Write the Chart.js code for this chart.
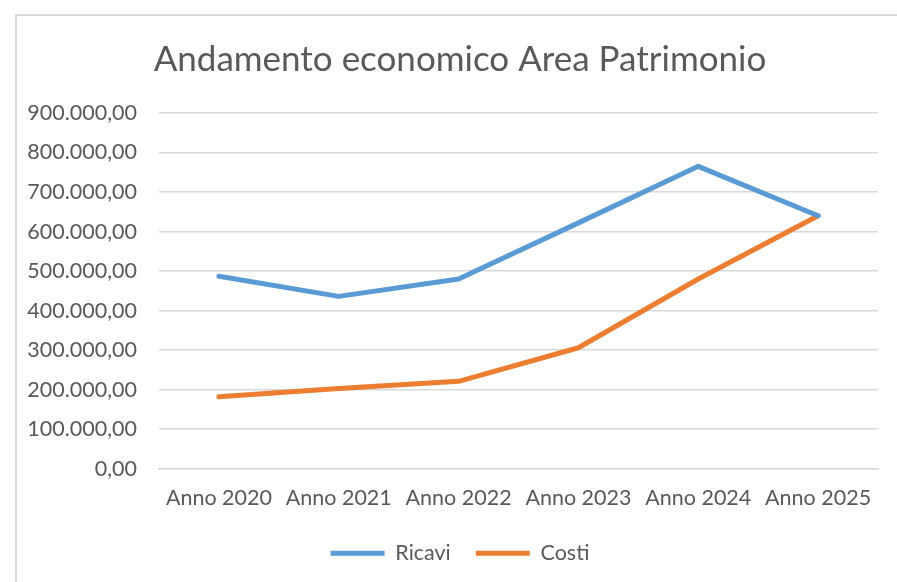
<!DOCTYPE html>
<html>
<head>
<meta charset="utf-8">
<script src="https://cdn.jsdelivr.net/npm/chart.js@4/dist/chart.umd.min.js"></script>
<style>
  html, body { margin: 0; padding: 0; background: #fff; }
  #wrap { position: absolute; left: 0; top: 0; width: 897px; height: 582px; }
  #frame { position: absolute; left: 15px; top: 14px; width: 890px; height: 580px; border: 2px solid #d9d9d9; box-sizing: border-box; }
</style>
</head>
<body>
<div id="wrap">
  <div id="frame"></div>
  <canvas id="andamentoChart" width="897" height="582"></canvas>
</div>
<script>
// Dati
const anni = ['Anno 2020', 'Anno 2021', 'Anno 2022', 'Anno 2023', 'Anno 2024', 'Anno 2025'];
const ricavi = [487000, 436000, 480000, 622000, 765000, 640000];
const costi = [182000, 203000, 221000, 306000, 480000, 640000];

const fmt = v => v.toLocaleString('it-IT', { minimumFractionDigits: 2, maximumFractionDigits: 2 });
const fontFamily = 'Lato, "Open Sans", sans-serif';
const grigio = '#595959';

// le etichette dell'asse y escono dal padding sinistro: allarga la zona di clip
const etichetteY = {
    id: 'etichetteY',
    afterLayout: chart => { chart.scales.y.left = 0; }
};

const ctx = document.getElementById('andamentoChart');
new Chart(ctx, {
    type: 'line',
    data: {
        labels: anni,
        datasets: [{
            label: 'Ricavi',
            data: ricavi,
            borderColor: '#5b9bd5',
            backgroundColor: '#5b9bd5',
            borderWidth: 5,
            borderCapStyle: 'round',
            borderJoinStyle: 'round',
            pointRadius: 0,
            tension: 0
        }, {
            label: 'Costi',
            data: costi,
            borderColor: '#ed7d31',
            backgroundColor: '#ed7d31',
            borderWidth: 5,
            borderCapStyle: 'round',
            borderJoinStyle: 'round',
            pointRadius: 0,
            tension: 0
        }]
    },
    options: {
        responsive: false,
        animation: false,
        layout: { padding: { left: 42, right: 19, top: 0, bottom: 8 } },
        plugins: {
            title: {
                display: true,
                text: 'Andamento economico Area Patrimonio',
                color: grigio,
                font: { family: fontFamily, size: 35, weight: 'normal' },
                padding: { top: 39, bottom: 32 }
            },
            legend: {
                position: 'bottom',
                labels: {
                    usePointStyle: true,
                    pointStyle: 'line',
                    pointStyleWidth: 54,
                    boxHeight: 10,
                    padding: 25,
                    color: grigio,
                    font: { family: fontFamily, size: 21.5 }
                }
            },
            tooltip: { enabled: false }
        },
        scales: {
            x: {
                offset: true,
                afterFit: scale => { scale.height -= 9; },
                grid: { display: false, drawTicks: false },
                border: { color: '#d9d9d9', width: 1.5 },
                ticks: { color: grigio, padding: 16, maxRotation: 0, autoSkip: false, font: { family: fontFamily, size: 21.5 } }
            },
            y: {
                min: 0,
                max: 900000,
                afterFit: scale => { scale.width = 117; },
                grid: { color: '#d9d9d9', lineWidth: 1.5, drawTicks: false },
                border: { display: false },
                ticks: {
                    stepSize: 100000,
                    padding: 22,
                    color: grigio,
                    font: { family: fontFamily, size: 21.5 },
                    callback: v => fmt(v)
                }
            }
        }
    },
    plugins: [etichetteY]
});
</script>
</body>
</html>
